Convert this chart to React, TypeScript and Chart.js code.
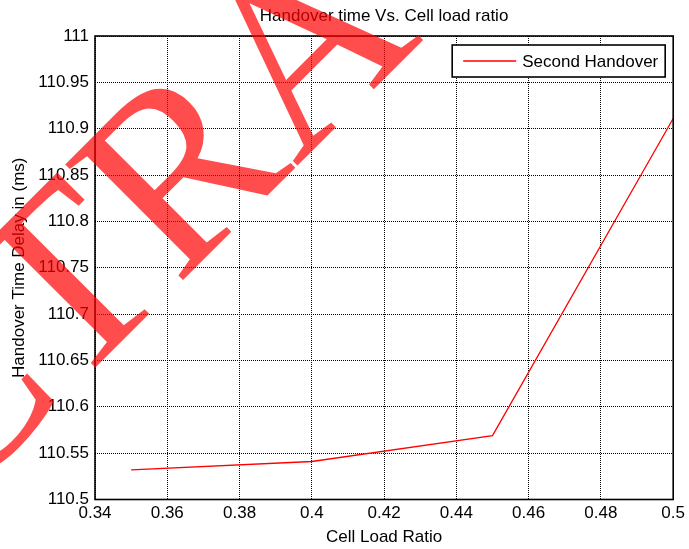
import { useEffect, useRef } from 'react';
import { Chart, registerables } from 'chart.js';

Chart.register(...registerables);

const chartTitle = 'Handover time Vs. Cell load ratio';
const xAxisTitle = 'Cell Load Ratio';
const yAxisTitle = 'Handover Time Delay in (ms)';
const seriesLabel = 'Second Handover';

const cellLoadRatio = [0.35, 0.4, 0.45, 0.5];
const handoverDelay = [110.532, 110.541, 110.569, 110.911];

const xTickValues = [0.34, 0.36, 0.38, 0.4, 0.42, 0.44, 0.46, 0.48, 0.5];
const xTickLabels = ['0.34', '0.36', '0.38', '0.4', '0.42', '0.44', '0.46', '0.48', '0.5'];
const yTickValues = [110.5, 110.55, 110.6, 110.65, 110.7, 110.75, 110.8, 110.85, 110.9, 110.95, 111];
const yTickLabels = ['110.5', '110.55', '110.6', '110.65', '110.7', '110.75', '110.8', '110.85', '110.9', '110.95', '111'];

const watermarkLead = 'C';
const watermarkMain = 'TRA';

const FONT = '"Liberation Sans", Arial, Helvetica, sans-serif';

const framePlugin = {
  id: 'frameAndLegend',
  afterDatasetsDraw(chart: any) {
    const { ctx, chartArea } = chart;
    ctx.save();
    ctx.strokeStyle = '#000';
    ctx.lineWidth = 1.6;
    ctx.strokeRect(chartArea.left, chartArea.top, chartArea.right - chartArea.left, chartArea.bottom - chartArea.top);

    // legend box (top-right inside axes)
    const ds = chart.data.datasets[0];
    const bx = chartArea.right - 221;
    const by = chartArea.top + 9;
    const bw = 213;
    const bh = 32;
    ctx.fillStyle = '#fff';
    ctx.fillRect(bx, by, bw, bh);
    ctx.lineWidth = 1.6;
    ctx.strokeRect(bx, by, bw, bh);
    ctx.strokeStyle = ds.borderColor;
    ctx.lineWidth = 1.3;
    ctx.beginPath();
    ctx.moveTo(bx + 11, by + bh / 2);
    ctx.lineTo(bx + 64, by + bh / 2);
    ctx.stroke();
    ctx.fillStyle = '#000';
    ctx.font = '17px ' + FONT;
    ctx.textAlign = 'left';
    ctx.textBaseline = 'middle';
    ctx.fillText(ds.label, bx + 70, by + bh / 2 + 1);
    ctx.restore();
  },
  afterDraw(chart: any) {
    const { ctx } = chart;
    ctx.save();
    ctx.translate(68, 395);
    ctx.rotate(-Math.PI / 4);
    ctx.font = '252px "Liberation Serif", "Times New Roman", serif';
    ctx.fillStyle = 'rgba(255,0,0,0.7)';
    ctx.textBaseline = 'alphabetic';
    ctx.textAlign = 'left';
    ctx.fillText(watermarkMain, 0, 0);
    ctx.textAlign = 'right';
    ctx.fillText(watermarkLead, 0, 0);
    ctx.restore();
  },
};

export default function App() {
  const canvasRef = useRef<HTMLCanvasElement | null>(null);

  useEffect(() => {
    const canvas = canvasRef.current;
    if (!canvas) return;
    Chart.defaults.font.family = FONT;
    Chart.defaults.color = '#000';
    const chart = new Chart(canvas, {
      type: 'line',
      data: {
        datasets: [
          {
            label: seriesLabel,
            data: cellLoadRatio.map((x, i) => ({ x, y: handoverDelay[i] })),
            borderColor: '#ff0000',
            backgroundColor: '#ff0000',
            borderWidth: 1.3,
            pointRadius: 0,
            tension: 0,
            fill: false,
          },
        ],
      },
      options: {
        responsive: false,
        animation: false,
        devicePixelRatio: 1,
        layout: { padding: { top: 0, right: 14, left: 0, bottom: 0 } },
        plugins: {
          legend: { display: false },
          tooltip: { enabled: false },
          title: {
            display: true,
            text: chartTitle,
            fullSize: false,
            color: '#000',
            font: { size: 17, weight: 'normal' },
            padding: { top: 6, bottom: 9.6 },
          },
        },
        scales: {
          x: {
            type: 'linear',
            min: 0.34,
            max: 0.5,
            afterBuildTicks: (scale: any) => {
              scale.ticks = xTickValues.map((v) => ({ value: v }));
            },
            afterFit: (scale: any) => {
              scale.height = 49.5;
            },
            ticks: {
              autoSkip: false,
              maxRotation: 0,
              color: '#000',
              padding: 4,
              font: { size: 17 },
              callback: (_v: any, i: number) => xTickLabels[i],
            },
            grid: { color: '#000', lineWidth: 1, drawTicks: false },
            border: { display: false, dash: [1, 1] },
            title: {
              display: true,
              text: xAxisTitle,
              color: '#000',
              font: { size: 17 },
              padding: { top: 0, bottom: 1 },
            },
          },
          y: {
            type: 'linear',
            min: 110.5,
            max: 111,
            afterBuildTicks: (scale: any) => {
              scale.ticks = yTickValues.map((v) => ({ value: v }));
            },
            afterFit: (scale: any) => {
              scale.width = 95;
            },
            ticks: {
              autoSkip: false,
              color: '#000',
              padding: 6,
              font: { size: 17 },
              callback: (_v: any, i: number) => yTickLabels[i],
            },
            grid: { color: '#000', lineWidth: 1, drawTicks: false },
            border: { display: false, dash: [1, 1] },
            title: {
              display: true,
              text: yAxisTitle,
              color: '#000',
              font: { size: 17 },
              padding: { top: 9, bottom: 0 },
            },
          },
        },
      },
      plugins: [framePlugin],
    });
    return () => chart.destroy();
  }, []);

  return (
    <div style={{ position: 'fixed', left: 0, top: 0, width: 689, height: 549, background: '#fff' }}>
      <canvas ref={canvasRef} width={689} height={549} style={{ display: 'block', width: 689, height: 549 }} />
    </div>
  );
}
